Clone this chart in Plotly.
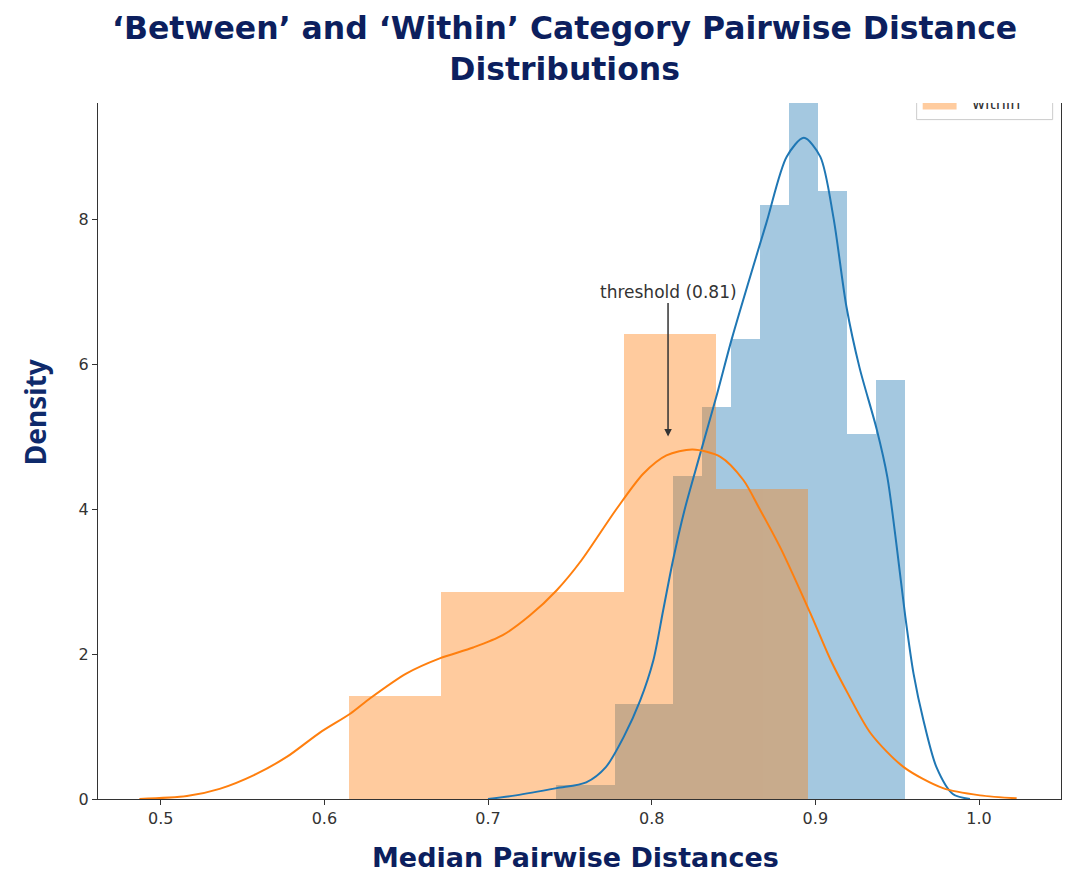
import plotly.graph_objects as go

# ---------------- data ----------------
between_edges = [0.7418, 0.7596, 0.7773, 0.7951, 0.8128, 0.8306, 0.8484,
                 0.8661, 0.8839, 0.9016, 0.9194, 0.9372, 0.9549]
between_density = [0.19, 0.19, 1.31, 1.31, 4.46, 5.41, 6.34, 8.19, 9.75,
                   8.38, 5.04, 5.78]

within_edges = [0.615, 0.6711, 0.7272, 0.7833, 0.8394, 0.8955]
within_density = [1.42, 2.85, 2.85, 6.41, 4.27]

between_kde_x = [0.700, 0.717, 0.742, 0.760, 0.772, 0.783, 0.793, 0.801,
                 0.807, 0.813, 0.820, 0.8295, 0.840, 0.849, 0.870, 0.8825,
                 0.893, 0.903, 0.911, 0.919, 0.927, 0.9375, 0.944, 0.950,
                 0.955, 0.960, 0.966, 0.974, 0.984, 0.9945]
between_kde_y = [0.00, 0.05, 0.15, 0.23, 0.44, 0.86, 1.36, 1.91,
                 2.60, 3.29, 3.98, 4.75, 5.59, 6.35, 7.94, 8.86,
                 9.12, 8.86, 8.03, 6.79, 5.95, 5.10, 4.44, 3.43,
                 2.51, 1.73, 1.09, 0.44, 0.07, 0.00]

within_kde_x = [0.487, 0.516, 0.536, 0.557, 0.577, 0.5975, 0.616, 0.628,
                0.650, 0.6705, 0.691, 0.709, 0.7255, 0.742, 0.757, 0.7785,
                0.795, 0.809, 0.825, 0.842, 0.856, 0.866, 0.879, 0.897,
                0.9095, 0.920, 0.934, 0.954, 0.978, 1.0006, 1.023]
within_kde_y = [0.00, 0.04, 0.14, 0.33, 0.58, 0.92, 1.18, 1.39,
                1.73, 1.94, 2.09, 2.26, 2.53, 2.88, 3.29, 4.00,
                4.49, 4.74, 4.82, 4.72, 4.40, 4.00, 3.45, 2.56,
                1.91, 1.45, 0.90, 0.44, 0.15, 0.05, 0.01]

x_ticks = [0.5, 0.6, 0.7, 0.8, 0.9, 1.0]
x_tick_labels = ["0.5", "0.6", "0.7", "0.8", "0.9", "1.0"]
y_ticks = [0, 2, 4, 6, 8]
y_tick_labels = ["0", "2", "4", "6", "8"]

threshold = 0.81
title_text = "‘Between’ and ‘Within’ Category Pairwise Distance<br>Distributions"
x_title = "Median Pairwise Distances"
y_title = "Density"

BLUE = "#1f77b4"
ORANGE = "#ff7f0e"
NAVY = "#0c1f5e"
TICK = "#333333"

# plot-area placement in the 1071x874 window (page has an 8px body margin)
PL, PT, PR, PB = 98, 103, 1061, 798.7
PW, PH = PR - PL, PB - PT


def px(x):
    return (x - PL) / PW


def py(y):
    return (PB - y) / PH


def centers(edges):
    return [(a + b) / 2 for a, b in zip(edges[:-1], edges[1:])]


def widths(edges):
    return [b - a for a, b in zip(edges[:-1], edges[1:])]


fig = go.Figure()

fig.add_trace(go.Bar(x=centers(between_edges), y=between_density,
                     width=widths(between_edges), marker_color=BLUE,
                     marker_line_width=0, opacity=0.4, name="between",
                     showlegend=False))
fig.add_trace(go.Bar(x=centers(within_edges), y=within_density,
                     width=widths(within_edges), marker_color=ORANGE,
                     marker_line_width=0, opacity=0.4, name="within",
                     showlegend=False))
fig.add_trace(go.Scatter(x=between_kde_x, y=between_kde_y, mode="lines",
                         line=dict(color=BLUE, width=2, shape="spline", smoothing=0.8),
                         showlegend=False, hoverinfo="skip"))
fig.add_trace(go.Scatter(x=within_kde_x, y=within_kde_y, mode="lines",
                         line=dict(color=ORANGE, width=2, shape="spline", smoothing=0.8),
                         showlegend=False, hoverinfo="skip"))

# clipped legend (the top of the original figure is cropped)
fig.add_shape(type="rect", xref="x", yref="y", x0=0.9619, x1=1.0450,
              y0=9.371, y1=9.95, line=dict(color="#cccccc", width=1),
              fillcolor="rgba(255,255,255,0.8)", layer="below")
fig.add_shape(type="rect", xref="x", yref="y", x0=0.9656, x1=0.9863,
              y0=9.51, y1=9.75, line=dict(width=0),
              fillcolor="rgba(255,127,14,0.4)", layer="below")
fig.add_trace(go.Scatter(x=[1.0105], y=[9.575], mode="text", text=["within"],
                         textposition="middle center",
                         textfont=dict(family="DejaVu Sans", size=16, color=TICK),
                         cliponaxis=True, showlegend=False, hoverinfo="skip"))

fig.add_annotation(x=threshold, y=5.0, ax=threshold, ay=7.0, axref="x", ayref="y",
                   xref="x", yref="y", text=f"threshold ({threshold})",
                   showarrow=True, arrowhead=2, arrowsize=1, arrowwidth=1.5,
                   arrowcolor=TICK,
                   font=dict(family="DejaVu Sans", size=17, color=TICK))

fig.add_annotation(xref="paper", yref="paper", x=px(564), y=py(49),
                   xanchor="center", yanchor="middle", showarrow=False,
                   text="<b>" + title_text + "</b>",
                   font=dict(family="DejaVu Sans, sans-serif", size=31.5, color=NAVY))
fig.add_annotation(xref="paper", yref="paper", x=px(575), y=py(857),
                   xanchor="center", yanchor="middle", showarrow=False,
                   text="<b>" + x_title + "</b>",
                   font=dict(family="DejaVu Sans, sans-serif", size=27, color=NAVY))
fig.add_annotation(xref="paper", yref="paper", x=px(35), y=py(412),
                   xanchor="center", yanchor="middle", showarrow=False, textangle=-90,
                   text="<b>" + y_title + "</b>",
                   font=dict(family="Noto Sans, sans-serif", size=28, color="#0f2a6b"))

fig.update_layout(
    width=1063, height=866,
    margin=dict(l=PL - 8, r=10, t=PT - 8, b=75),
    paper_bgcolor="white", plot_bgcolor="white",
    barmode="overlay", bargap=0,
    showlegend=False,
    xaxis=dict(range=[0.4617, 1.0501], tickvals=x_ticks, ticktext=x_tick_labels,
               showgrid=False, zeroline=False, showline=True, linecolor=TICK,
               linewidth=1.3, ticks="outside", ticklen=5, tickcolor=TICK,
               tickfont=dict(family="DejaVu Sans", size=16, color=TICK)),
    yaxis=dict(range=[0, 9.6], tickvals=y_ticks, ticktext=y_tick_labels,
               showgrid=False, zeroline=False, showline=True, mirror=True,
               linecolor=TICK, linewidth=1.3, ticks="outside", ticklen=5,
               tickcolor=TICK,
               tickfont=dict(family="DejaVu Sans", size=16, color=TICK)),
)

fig.write_html("out.html")
